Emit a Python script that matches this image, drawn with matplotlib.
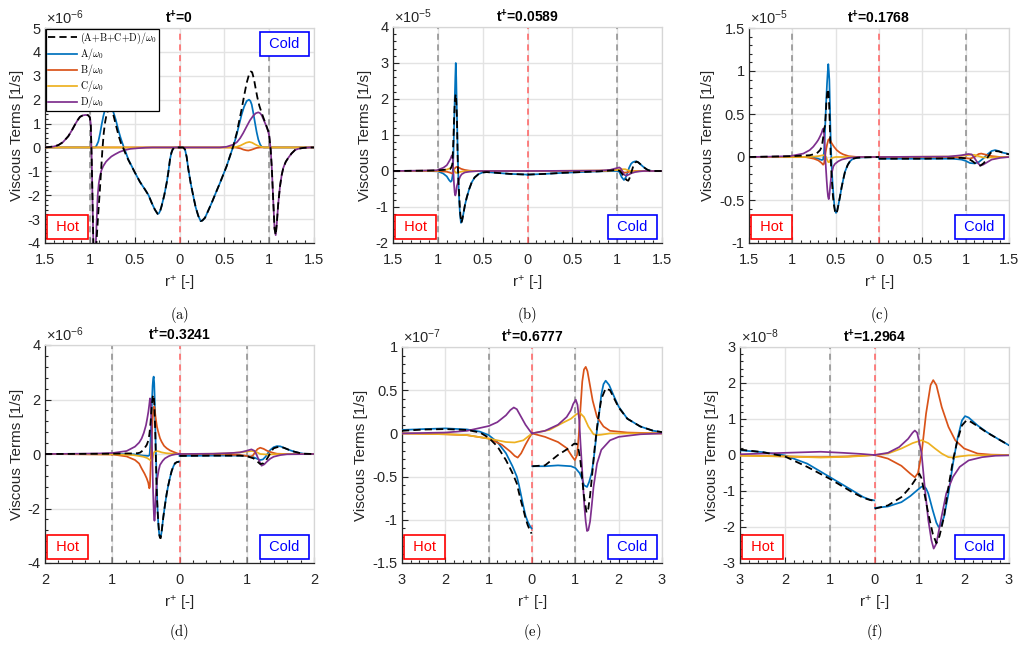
import numpy as np
import matplotlib
matplotlib.use('Agg')
import matplotlib.pyplot as plt
from matplotlib.ticker import AutoMinorLocator, FixedLocator, FuncFormatter
from matplotlib.font_manager import FontProperties

plt.rcParams['font.family'] = ['Liberation Sans', 'DejaVu Sans']
plt.rcParams['mathtext.fontset'] = 'custom'
plt.rcParams['mathtext.rm'] = 'Liberation Sans'
plt.rcParams['mathtext.it'] = 'Liberation Sans:italic'
plt.rcParams['mathtext.bf'] = 'Liberation Sans:bold'
plt.rcParams['axes.unicode_minus'] = False

# ---------------- data (signed r+: negative = hot side) ----------------
nan = float('nan')
# Panel (a)  t+=0, x1e-6
a_S_left = [(-1.5,0),(-1.4,0.04),(-1.35,0.1),(-1.3,0.22),(-1.24,0.47),(-1.2,0.72),(-1.165,0.96),(-1.135,1.15),(-1.11,1.28),(-1.08,1.34),(-1.05,1.36),(-1.02,1.35),(-1.0,1.26),(-0.99,1.0),(-0.98,-0.36),(-0.97,-2.2),(-0.96,-4.2),(-0.95,-5.2),(-0.935,-4.6),(-0.92,-3.6),(-0.905,-2.7),(-0.89,-1.9),(-0.875,-1.0),(-0.86,-0.1),(-0.845,0.6),(-0.83,1.05),(-0.815,1.35),(-0.8,1.52),(-0.785,1.6),(-0.77,1.6),(-0.755,1.52),(-0.74,1.4),(-0.72,1.1),(-0.7,0.8),(-0.68,0.5),(-0.655,0.2),(-0.625,-0.05),(-0.6,-0.28),(-0.571,-0.52),(-0.496,-1.06),(-0.44,-1.45),(-0.385,-1.76),(-0.345,-2.0),(-0.31,-2.32),(-0.275,-2.6),(-0.244,-2.78),(-0.23,-2.76),(-0.215,-2.65),(-0.2,-2.46),(-0.17,-2.0),(-0.143,-1.48),(-0.125,-1.05),(-0.106,-0.5),(-0.09,-0.22),(-0.076,-0.08),(-0.06,-0.02),(-0.05,0),(0,0)]
a_S_right = [(0,0),(0.04,0),(0.061,-0.08),(0.08,-0.4),(0.099,-0.92),(0.125,-1.5),(0.154,-2.04),(0.18,-2.5),(0.21,-2.87),(0.236,-3.08),(0.255,-3.06),(0.285,-2.94),(0.32,-2.65),(0.359,-2.32),(0.405,-1.9),(0.452,-1.48),(0.49,-1.12),(0.526,-0.78),(0.555,-0.45),(0.582,-0.15),(0.6,0.06),(0.62,0.35),(0.638,0.6),(0.665,1.1),(0.693,1.6),(0.72,2.15),(0.749,2.7),(0.775,3.05),(0.795,3.18),(0.81,3.15),(0.831,2.85),(0.85,2.45),(0.868,2.1),(0.89,1.75),(0.916,1.45),(0.94,1.2),(0.965,0.95),(0.99,0.68),(1.0,0.5),(1.017,-0.1),(1.03,-0.9),(1.045,-2.2),(1.06,-3.4),(1.073,-3.67),(1.085,-3.2),(1.1,-2.4),(1.121,-1.62),(1.14,-1.15),(1.158,-0.85),(1.185,-0.6),(1.214,-0.43),(1.25,-0.25),(1.288,-0.11),(1.33,-0.05),(1.38,-0.02),(1.45,0),(1.5,0)]
a_A_left = [(-1.5,0),(-0.94,0),(-0.925,0.08),(-0.905,0.25),(-0.885,0.6),(-0.868,0.96),(-0.85,1.3),(-0.83,1.6),(-0.81,1.76),(-0.795,1.8),(-0.78,1.79),(-0.765,1.72),(-0.75,1.6),(-0.735,1.45),(-0.71,1.15),(-0.68,0.7),(-0.655,0.38),(-0.626,0.06),(-0.6,-0.2),(-0.571,-0.5),(-0.496,-1.06),(-0.44,-1.45),(-0.385,-1.76),(-0.345,-2.0),(-0.31,-2.32),(-0.275,-2.6),(-0.244,-2.78),(-0.23,-2.76),(-0.215,-2.65),(-0.2,-2.46),(-0.17,-2.0),(-0.143,-1.48),(-0.125,-1.05),(-0.106,-0.5),(-0.09,-0.22),(-0.076,-0.08),(-0.06,-0.02),(-0.05,0),(0,0)]
a_A_right = [(0,0),(0.04,0),(0.061,-0.08),(0.08,-0.4),(0.099,-0.92),(0.125,-1.5),(0.154,-2.04),(0.18,-2.5),(0.21,-2.87),(0.236,-3.08),(0.255,-3.06),(0.285,-2.94),(0.32,-2.65),(0.359,-2.32),(0.405,-1.9),(0.452,-1.48),(0.49,-1.12),(0.526,-0.78),(0.555,-0.45),(0.582,-0.15),(0.6,0.06),(0.62,0.3),(0.638,0.54),(0.665,0.95),(0.693,1.38),(0.72,1.7),(0.749,1.94),(0.775,2.0),(0.79,1.95),(0.805,1.8),(0.823,1.45),(0.842,1.03),(0.86,0.65),(0.879,0.33),(0.9,0.12),(0.916,0.03),(0.94,0),(1.5,0)]
a_B_left = [(-1.5,0),(0,0)]
a_B_right = [(0,0),(0.62,0),(0.68,-0.04),(0.712,-0.09),(0.745,-0.12),(0.768,-0.13),(0.8,-0.1),(0.823,-0.07),(0.86,-0.02),(0.9,0),(1.5,0)]
a_C_left = [(-1.5,0),(0,0)]
a_C_right = [(0,0),(0.6,0),(0.64,0.03),(0.68,0.08),(0.712,0.14),(0.745,0.2),(0.779,0.23),(0.81,0.2),(0.842,0.13),(0.88,0.06),(0.916,0.02),(0.95,0),(1.5,0)]
a_D_left = [(-1.5,0),(-1.4,0.04),(-1.35,0.1),(-1.3,0.22),(-1.24,0.47),(-1.2,0.72),(-1.165,0.96),(-1.135,1.15),(-1.11,1.28),(-1.08,1.34),(-1.05,1.36),(-1.02,1.35),(-1.0,1.26),(-0.99,1.0),(-0.98,-0.36),(-0.97,-2.2),(-0.96,-4.2),(-0.95,-5.2),(-0.94,-4.8),(-0.925,-3.2),(-0.913,-2.04),(-0.9,-1.5),(-0.887,-1.2),(-0.87,-0.95),(-0.85,-0.78),(-0.82,-0.6),(-0.794,-0.5),(-0.76,-0.38),(-0.72,-0.29),(-0.67,-0.19),(-0.61,-0.11),(-0.55,-0.06),(-0.46,-0.03),(-0.38,-0.01),(-0.3,0),(0,0)]
a_D_right = [(0,0),(0.45,0),(0.526,0.03),(0.6,0.12),(0.64,0.22),(0.675,0.38),(0.71,0.6),(0.749,0.88),(0.785,1.13),(0.823,1.33),(0.85,1.43),(0.879,1.47),(0.9,1.43),(0.916,1.35),(0.94,1.15),(0.965,0.92),(0.985,0.72),(1.0,0.5),(1.017,-0.1),(1.03,-0.9),(1.045,-2.2),(1.06,-3.4),(1.073,-3.67),(1.085,-3.2),(1.1,-2.4),(1.121,-1.62),(1.14,-1.15),(1.158,-0.85),(1.185,-0.6),(1.214,-0.43),(1.25,-0.25),(1.288,-0.11),(1.33,-0.05),(1.38,-0.02),(1.45,0),(1.5,0)]

# Panel (b)  t+=0.0589, x1e-5
b_S_left = [(-1.5,0),(-1.1,0.01),(-1.0,0.02),(-0.94,0.03),(-0.9,0.04),(-0.864,0.05),(-0.85,0.1),(-0.838,0.19),(-0.827,0.83),(-0.818,1.5),(-0.81,1.94),(-0.803,2.1),(-0.798,2.13),(-0.792,1.8),(-0.787,1.48),(-0.779,0.37),(-0.772,-0.2),(-0.764,-0.56),(-0.756,-0.95),(-0.749,-1.2),(-0.738,-1.44),(-0.728,-1.36),(-0.716,-1.2),(-0.698,-0.95),(-0.678,-0.74),(-0.65,-0.5),(-0.623,-0.32),(-0.59,-0.18),(-0.548,-0.09),(-0.5,-0.04),(-0.456,-0.03),(-0.4,-0.04),(-0.3,-0.06),(-0.2,-0.08),(-0.1,-0.09),(0,-0.1)]
b_S_right = [(0,-0.1),(0.2,-0.08),(0.4,-0.05),(0.6,-0.03),(0.8,-0.01),(0.95,0.02),(0.994,0.04),(1.03,0.0),(1.05,-0.06),(1.068,-0.13),(1.09,-0.2),(1.105,-0.25),(1.124,-0.27),(1.138,-0.2),(1.15,-0.1),(1.165,0.02),(1.18,0.14),(1.2,0.23),(1.217,0.26),(1.235,0.24),(1.254,0.2),(1.28,0.14),(1.31,0.08),(1.34,0.03),(1.366,0.01),(1.4,0),(1.5,0)]
b_A_left = [(-1.5,0),(-1.1,0),(-1.0,-0.01),(-0.94,-0.07),(-0.9,-0.15),(-0.875,-0.25),(-0.857,-0.3),(-0.845,-0.27),(-0.835,-0.12),(-0.827,0.37),(-0.82,1.1),(-0.812,1.94),(-0.805,2.6),(-0.8,3.0),(-0.795,2.6),(-0.79,1.94),(-0.784,1.2),(-0.779,0.56),(-0.773,0.0),(-0.768,-0.46),(-0.76,-0.9),(-0.753,-1.2),(-0.742,-1.44),(-0.73,-1.38),(-0.716,-1.2),(-0.698,-0.95),(-0.678,-0.74),(-0.65,-0.5),(-0.623,-0.32),(-0.59,-0.18),(-0.548,-0.09),(-0.5,-0.04),(-0.456,-0.03),(-0.4,-0.04),(-0.3,-0.06),(-0.2,-0.08),(-0.1,-0.09),(0,-0.1)]
b_A_right = [(0,-0.1),(0.2,-0.08),(0.4,-0.05),(0.6,-0.03),(0.8,-0.01),(0.994,0.0),(1.024,-0.02),(1.05,-0.17),(1.076,-0.25),(1.09,-0.2),(1.105,-0.13),(1.12,0.0),(1.135,0.1),(1.155,0.2),(1.172,0.24),(1.19,0.26),(1.21,0.27),(1.23,0.25),(1.254,0.2),(1.28,0.14),(1.31,0.08),(1.34,0.03),(1.366,0.01),(1.4,0),(1.5,0)]
b_B_left = [(-1.5,0),(-1.0,0),(-0.9,-0.02),(-0.86,-0.05),(-0.838,-0.07),(-0.828,-0.02),(-0.815,0.06),(-0.8,0.1),(-0.785,0.12),(-0.77,0.1),(-0.74,0.06),(-0.7,0.03),(-0.65,0.01),(-0.6,0),(0,0)]
b_B_right = [(0,0),(0.9,0.01),(0.98,0.03),(1.01,0.04),(1.05,0.0),(1.08,-0.05),(1.11,-0.04),(1.15,-0.01),(1.2,0),(1.5,0)]
b_C_left = [(-1.5,0),(-1.0,0.01),(-0.9,0.04),(-0.86,0.08),(-0.846,0.11),(-0.83,0.1),(-0.815,0.0),(-0.8,-0.05),(-0.785,-0.05),(-0.76,-0.03),(-0.72,-0.01),(-0.65,0),(0,0)]
b_C_right = [(0,0),(0.9,0.01),(1.0,0.03),(1.05,0.05),(1.09,0.05),(1.12,0.02),(1.16,-0.01),(1.2,-0.01),(1.3,0),(1.5,0)]
b_D_left = [(-1.5,0),(-1.2,0.01),(-1.013,0.02),(-0.939,0.09),(-0.9,0.16),(-0.883,0.23),(-0.86,0.33),(-0.846,0.42),(-0.838,0.44),(-0.832,0.35),(-0.827,0.0),(-0.82,-0.35),(-0.812,-0.6),(-0.805,-0.68),(-0.798,-0.62),(-0.788,-0.42),(-0.771,-0.28),(-0.75,-0.15),(-0.734,-0.09),(-0.7,-0.04),(-0.65,-0.02),(-0.55,0),(0,0)]
b_D_right = [(0,0),(0.8,0.01),(0.92,0.03),(0.994,0.08),(1.024,0.1),(1.04,0.07),(1.05,0.03),(1.065,-0.05),(1.076,-0.1),(1.1,-0.13),(1.13,-0.1),(1.16,-0.06),(1.2,-0.03),(1.25,-0.01),(1.3,0),(1.5,0)]

# Panel (c)  t+=0.1768, x1e-5
c_S_left = [(-1.5,0),(-1.0,0.01),(-0.8,0.02),(-0.72,0.04),(-0.68,0.08),(-0.66,0.12),(-0.645,0.22),(-0.632,0.33),(-0.624,0.36),(-0.617,0.45),(-0.608,0.62),(-0.598,0.74),(-0.59,0.79),(-0.582,0.75),(-0.575,0.6),(-0.568,0.38),(-0.56,0.1),(-0.552,-0.13),(-0.542,-0.3),(-0.531,-0.46),(-0.52,-0.56),(-0.508,-0.63),(-0.494,-0.66),(-0.48,-0.62),(-0.469,-0.56),(-0.45,-0.46),(-0.431,-0.35),(-0.41,-0.25),(-0.392,-0.17),(-0.36,-0.09),(-0.335,-0.05),(-0.3,-0.02),(-0.258,-0.01),(-0.2,-0.005),(0,0)]
c_S_right = [(0,-0.02),(0.5,-0.02),(0.85,-0.015),(0.95,-0.01),(1.03,-0.02),(1.08,-0.05),(1.13,-0.09),(1.17,-0.1),(1.21,-0.07),(1.25,-0.01),(1.29,0.05),(1.33,0.07),(1.38,0.065),(1.43,0.05),(1.5,0.03)]
c_A_left = [(-1.5,0),(-1.0,0),(-0.8,0),(-0.7,-0.02),(-0.662,-0.035),(-0.645,-0.03),(-0.635,0.05),(-0.627,0.2),(-0.612,0.59),(-0.6,0.85),(-0.592,0.98),(-0.585,1.08),(-0.578,0.98),(-0.573,0.9),(-0.568,0.68),(-0.562,0.39),(-0.555,0.12),(-0.546,-0.11),(-0.537,-0.28),(-0.527,-0.42),(-0.517,-0.54),(-0.508,-0.62),(-0.496,-0.65),(-0.483,-0.62),(-0.469,-0.56),(-0.45,-0.46),(-0.431,-0.35),(-0.41,-0.25),(-0.392,-0.17),(-0.36,-0.09),(-0.335,-0.05),(-0.3,-0.02),(-0.258,-0.01),(-0.2,-0.005),(0,0)]
c_A_right = [(0,-0.02),(0.5,-0.02),(0.85,-0.02),(0.95,-0.03),(1.0,-0.045),(1.05,-0.07),(1.1,-0.075),(1.15,-0.06),(1.2,-0.02),(1.25,0.03),(1.3,0.07),(1.34,0.08),(1.38,0.07),(1.43,0.05),(1.5,0.035)]
c_B_left = [(-1.5,0),(-0.85,0),(-0.75,-0.02),(-0.7,-0.04),(-0.662,-0.07),(-0.645,-0.09),(-0.635,-0.08),(-0.625,-0.02),(-0.615,0.06),(-0.6,0.14),(-0.585,0.2),(-0.573,0.21),(-0.56,0.19),(-0.546,0.16),(-0.52,0.12),(-0.488,0.08),(-0.45,0.05),(-0.412,0.03),(-0.35,0.01),(-0.25,0),(0,0)]
c_B_right = [(0,0),(0.85,0),(0.98,-0.01),(1.05,-0.02),(1.1,0.0),(1.15,0.035),(1.18,0.04),(1.22,0.03),(1.3,0.01),(1.4,0),(1.5,0)]
c_C_left = [(-1.5,0),(-0.8,0),(-0.7,0.01),(-0.65,0.02),(-0.625,0.02),(-0.61,0.0),(-0.6,-0.03),(-0.585,-0.06),(-0.575,-0.06),(-0.56,-0.03),(-0.54,-0.01),(-0.5,0),(0,0)]
c_C_right = [(0,0),(0.85,0.005),(0.95,0.015),(1.05,0.025),(1.1,0.025),(1.15,0.01),(1.2,-0.005),(1.3,-0.005),(1.5,0)]
c_D_left = [(-1.5,0),(-1.2,0.005),(-1.027,0.01),(-0.873,0.04),(-0.8,0.08),(-0.758,0.12),(-0.72,0.17),(-0.7,0.2),(-0.68,0.24),(-0.662,0.28),(-0.65,0.32),(-0.642,0.33),(-0.635,0.28),(-0.627,0.15),(-0.62,0.0),(-0.612,-0.14),(-0.604,-0.27),(-0.596,-0.38),(-0.588,-0.46),(-0.58,-0.49),(-0.572,-0.44),(-0.565,-0.36),(-0.555,-0.26),(-0.546,-0.19),(-0.527,-0.11),(-0.508,-0.08),(-0.47,-0.05),(-0.43,-0.03),(-0.35,-0.01),(-0.25,0),(0,0)]
c_D_right = [(0,0),(0.8,0.005),(0.95,0.02),(1.03,0.035),(1.07,0.03),(1.1,-0.01),(1.14,-0.07),(1.17,-0.1),(1.2,-0.09),(1.25,-0.06),(1.3,-0.03),(1.4,-0.01),(1.5,0)]

# Panel (d)  t+=0.3241, x1e-6
d_S_left = [(-2,0),(-1,0.01),(-0.8,0.02),(-0.7,0.02),(-0.62,0.03),(-0.587,0.05),(-0.56,0.1),(-0.538,0.15),(-0.51,0.25),(-0.488,0.33),(-0.465,0.48),(-0.449,0.7),(-0.44,0.9),(-0.429,1.19),(-0.419,1.55),(-0.409,1.86),(-0.398,2.1),(-0.389,2.17),(-0.381,2.05),(-0.374,1.8),(-0.366,1.25),(-0.359,0.7),(-0.352,-0.1),(-0.344,-0.89),(-0.335,-1.6),(-0.325,-2.12),(-0.312,-2.6),(-0.3,-2.97),(-0.29,-3.08),(-0.28,-3.09),(-0.27,-2.95),(-0.26,-2.73),(-0.24,-2.3),(-0.216,-1.87),(-0.19,-1.45),(-0.166,-1.14),(-0.14,-0.85),(-0.116,-0.62),(-0.09,-0.45),(-0.067,-0.34),(-0.04,-0.3),(-0.005,-0.28)]
d_S_right = [(0,-0.07),(0.5,-0.06),(0.9,-0.06),(1.0,-0.08),(1.1,-0.16),(1.16,-0.28),(1.2,-0.37),(1.25,-0.34),(1.29,-0.22),(1.32,-0.1),(1.36,0.08),(1.4,0.21),(1.48,0.27),(1.55,0.23),(1.62,0.16),(1.7,0.09),(1.78,0.04),(1.85,0.01),(2,0)]
d_A_left = [(-2,0),(-1,0),(-0.686,-0.01),(-0.6,-0.04),(-0.538,-0.06),(-0.463,-0.07),(-0.445,-0.04),(-0.435,0.3),(-0.425,0.8),(-0.419,1.19),(-0.41,1.9),(-0.4,2.5),(-0.392,2.75),(-0.384,2.84),(-0.376,2.6),(-0.369,2.04),(-0.362,1.2),(-0.354,0.33),(-0.346,-0.4),(-0.339,-1.14),(-0.33,-1.8),(-0.32,-2.36),(-0.31,-2.75),(-0.3,-2.97),(-0.29,-3.05),(-0.282,-3.05),(-0.27,-2.92),(-0.26,-2.73),(-0.24,-2.3),(-0.216,-1.87),(-0.19,-1.45),(-0.166,-1.14),(-0.14,-0.85),(-0.116,-0.62),(-0.09,-0.45),(-0.067,-0.34),(-0.04,-0.3),(-0.005,-0.28)]
d_A_right = [(0,-0.07),(0.5,-0.06),(0.9,-0.06),(1.0,-0.07),(1.1,-0.12),(1.16,-0.18),(1.2,-0.22),(1.24,-0.2),(1.28,-0.1),(1.32,0.05),(1.35,0.15),(1.4,0.25),(1.45,0.29),(1.5,0.28),(1.55,0.23),(1.62,0.16),(1.7,0.09),(1.78,0.04),(1.85,0.01),(2,0)]
d_B_left = [(-2,0),(-1.5,-0.01),(-0.984,-0.02),(-0.786,-0.09),(-0.662,-0.22),(-0.6,-0.35),(-0.563,-0.53),(-0.52,-0.72),(-0.488,-0.89),(-0.465,-1.05),(-0.449,-1.26),(-0.44,-1.2),(-0.434,-0.75),(-0.424,-0.1),(-0.414,0.5),(-0.402,1.2),(-0.389,1.6),(-0.378,1.74),(-0.37,1.7),(-0.36,1.45),(-0.35,1.25),(-0.335,1.0),(-0.315,0.8),(-0.29,0.58),(-0.266,0.45),(-0.23,0.3),(-0.19,0.21),(-0.14,0.13),(-0.092,0.08),(-0.04,0.03),(0,0)]
d_B_right = [(0,0),(0.6,-0.01),(0.9,-0.04),(1.0,-0.07),(1.05,-0.1),(1.09,-0.06),(1.12,0.05),(1.16,0.18),(1.2,0.23),(1.25,0.19),(1.3,0.12),(1.38,0.05),(1.45,0.01),(1.6,0),(2,0)]
d_C_left = [(-2,0),(-1,-0.01),(-0.686,-0.04),(-0.538,-0.1),(-0.48,-0.15),(-0.439,-0.22),(-0.42,-0.25),(-0.404,-0.22),(-0.395,-0.1),(-0.385,0.02),(-0.37,0.09),(-0.339,0.11),(-0.3,0.09),(-0.266,0.06),(-0.2,0.03),(-0.1,0.01),(0,0)]
d_C_right = [(0,0),(0.5,0.01),(0.7,0.02),(0.9,0.06),(1.0,0.09),(1.08,0.11),(1.14,0.08),(1.2,0.0),(1.3,-0.02),(1.4,-0.01),(1.6,0),(2,0)]
d_D_left = [(-2,0),(-1.5,0.01),(-1.182,0.02),(-0.984,0.04),(-0.786,0.11),(-0.662,0.27),(-0.6,0.42),(-0.563,0.57),(-0.53,0.78),(-0.498,1.06),(-0.48,1.3),(-0.463,1.55),(-0.45,1.8),(-0.439,2.04),(-0.431,2.0),(-0.424,1.7),(-0.417,1.1),(-0.409,0.33),(-0.401,-0.5),(-0.394,-1.26),(-0.386,-1.9),(-0.379,-2.3),(-0.372,-2.45),(-0.366,-2.3),(-0.36,-1.9),(-0.354,-1.55),(-0.342,-1.15),(-0.33,-0.89),(-0.31,-0.6),(-0.29,-0.4),(-0.25,-0.25),(-0.216,-0.16),(-0.16,-0.08),(-0.116,-0.04),(-0.06,-0.01),(0,0)]
d_D_right = [(0,0),(0.5,0.01),(0.8,0.04),(0.9,0.06),(1.0,0.12),(1.07,0.17),(1.12,0.11),(1.15,-0.05),(1.18,-0.22),(1.22,-0.43),(1.26,-0.38),(1.3,-0.28),(1.35,-0.17),(1.4,-0.1),(1.5,-0.04),(1.6,-0.01),(2,0)]

# Panel (e)  t+=0.6777, x1e-7
e_S_left = [(-3,0.03),(-2.5,0.045),(-2,0.05),(-1.5,0.04),(-1.2,0.01),(-1.0,-0.05),(-0.8,-0.15),(-0.6,-0.31),(-0.45,-0.46),(-0.35,-0.58),(-0.3,-0.69),(-0.25,-0.79),(-0.2,-0.88),(-0.15,-0.98),(-0.1,-1.06),(-0.05,-1.12),(-0.01,-1.16)]
e_S_right = [(0.01,-0.38),(0.3,-0.37),(0.6,-0.25),(0.85,-0.17),(0.97,-0.12),(1.03,-0.12),(1.08,-0.2),(1.12,-0.33),(1.16,-0.53),(1.2,-0.73),(1.26,-0.92),(1.3,-0.87),(1.34,-0.72),(1.38,-0.52),(1.45,-0.15),(1.52,0.15),(1.6,0.4),(1.7,0.52),(1.8,0.5),(1.9,0.4),(2.0,0.3),(2.2,0.17),(2.5,0.08),(2.8,0.03),(3,0.015)]
e_A_left = [(-3,0.04),(-2.5,0.05),(-2,0.058),(-1.5,0.046),(-1.2,0.02),(-1.0,-0.02),(-0.8,-0.1),(-0.6,-0.23),(-0.45,-0.38),(-0.35,-0.5),(-0.3,-0.6),(-0.25,-0.72),(-0.2,-0.84),(-0.15,-0.95),(-0.1,-1.02),(-0.05,-1.07),(-0.01,-1.1)]
e_A_right = [(0.01,-0.38),(0.3,-0.38),(0.6,-0.37),(0.9,-0.38),(1.0,-0.4),(1.1,-0.46),(1.16,-0.53),(1.2,-0.6),(1.27,-0.62),(1.32,-0.56),(1.38,-0.45),(1.42,-0.31),(1.46,-0.14),(1.5,0.04),(1.55,0.23),(1.6,0.45),(1.65,0.57),(1.7,0.61),(1.78,0.56),(1.9,0.42),(2.0,0.31),(2.2,0.17),(2.5,0.08),(2.8,0.03),(3,0.015)]
e_B_left = [(-3,0),(-2,-0.01),(-1.5,-0.02),(-1.0,-0.06),(-0.7,-0.13),(-0.5,-0.21),(-0.4,-0.26),(-0.33,-0.28),(-0.25,-0.23),(-0.15,-0.13),(-0.05,-0.04),(0,0)]
e_B_right = [(0,0),(0.3,-0.04),(0.6,-0.1),(0.8,-0.17),(0.93,-0.27),(0.99,-0.31),(1.04,-0.25),(1.08,-0.02),(1.12,0.3),(1.16,0.6),(1.2,0.74),(1.24,0.77),(1.28,0.72),(1.34,0.55),(1.4,0.38),(1.5,0.19),(1.65,0.08),(1.8,0.03),(2.2,0.01),(3,0)]
e_C_left = [(-3,0),(-2,-0.01),(-1.5,-0.02),(-1.0,-0.06),(-0.6,-0.1),(-0.4,-0.105),(-0.2,-0.08),(-0.05,-0.02),(0,0)]
e_C_right = [(0,0),(0.4,0.04),(0.7,0.12),(0.9,0.17),(1.02,0.22),(1.1,0.24),(1.2,0.19),(1.3,0.08),(1.42,-0.01),(1.5,-0.02),(1.6,-0.015),(1.8,0),(3,0)]
e_D_left = [(-3,0),(-2,0.01),(-1.5,0.03),(-1.0,0.085),(-0.8,0.13),(-0.6,0.21),(-0.5,0.27),(-0.42,0.3),(-0.35,0.28),(-0.25,0.19),(-0.15,0.1),(-0.05,0.03),(0,0)]
e_D_right = [(0,0),(0.3,0.03),(0.6,0.1),(0.8,0.19),(0.9,0.27),(0.95,0.34),(1.01,0.39),(1.05,0.33),(1.09,0.15),(1.12,-0.12),(1.15,-0.36),(1.18,-0.62),(1.21,-0.85),(1.24,-1.02),(1.27,-1.13),(1.3,-1.12),(1.34,-1.02),(1.38,-0.83),(1.42,-0.62),(1.5,-0.35),(1.6,-0.19),(1.8,-0.08),(2.0,-0.04),(2.5,-0.01),(3,0)]

# Panel (f)  t+=1.2964, x1e-8
f_S_left = [(-3,0.15),(-2.5,0.08),(-2,-0.04),(-1.5,-0.33),(-1.0,-0.66),(-0.5,-1.03),(-0.25,-1.19),(-0.1,-1.25),(-0.01,-1.27)]
f_S_right = [(0.01,-1.49),(0.3,-1.4),(0.6,-1.17),(0.8,-0.89),(0.95,-0.61),(1.0,-0.52),(1.05,-0.65),(1.1,-0.98),(1.2,-1.63),(1.3,-2.19),(1.38,-2.45),(1.45,-2.25),(1.55,-1.72),(1.65,-0.89),(1.75,-0.15),(1.85,0.41),(1.95,0.82),(2.05,0.96),(2.15,0.92),(2.3,0.8),(2.5,0.63),(2.75,0.45),(3.0,0.27)]
f_A_left = [(-3,0.13),(-2.5,0.08),(-2,-0.01),(-1.5,-0.24),(-1.0,-0.61),(-0.5,-0.98),(-0.25,-1.17),(-0.1,-1.24),(-0.01,-1.26)]
f_A_right = [(0.01,-1.47),(0.3,-1.43),(0.6,-1.31),(0.8,-1.14),(0.95,-0.98),(1.05,-0.88),(1.1,-0.87),(1.15,-0.93),(1.2,-1.07),(1.3,-1.54),(1.38,-1.88),(1.43,-2.0),(1.48,-1.95),(1.55,-1.72),(1.65,-1.07),(1.75,-0.24),(1.85,0.45),(1.95,0.96),(2.02,1.08),(2.1,1.04),(2.3,0.82),(2.5,0.64),(2.75,0.45),(3.0,0.27)]
f_B_left = [(-3,-0.01),(-2,-0.04),(-1.2,-0.06),(-0.6,-0.04),(-0.2,-0.01),(0,0)]
f_B_right = [(0,0),(0.3,-0.1),(0.6,-0.3),(0.8,-0.52),(0.9,-0.62),(0.97,-0.5),(1.05,0.04),(1.15,1.15),(1.25,1.94),(1.31,2.08),(1.38,1.94),(1.5,1.33),(1.65,0.78),(1.8,0.41),(2.0,0.18),(2.3,0.04),(2.6,0.01),(3,0)]
f_C_left = [(-3,-0.02),(-2,-0.04),(-1.2,-0.07),(-0.6,-0.05),(-0.2,-0.02),(0,0)]
f_C_right = [(0,0),(0.3,0.04),(0.6,0.18),(0.85,0.33),(1.05,0.41),(1.2,0.33),(1.35,0.18),(1.5,0.04),(1.65,-0.06),(1.75,-0.07),(1.9,-0.04),(2.1,-0.01),(3,0)]
f_D_left = [(-3,0.02),(-2,0.06),(-1.2,0.09),(-0.7,0.06),(-0.3,0.03),(0,0)]
f_D_right = [(0,0),(0.3,0.06),(0.55,0.22),(0.75,0.45),(0.85,0.62),(0.9,0.68),(0.95,0.62),(1.0,0.35),(1.05,0.04),(1.12,-0.89),(1.2,-1.81),(1.27,-2.37),(1.32,-2.6),(1.38,-2.46),(1.48,-1.81),(1.6,-1.07),(1.75,-0.61),(1.9,-0.33),(2.1,-0.15),(2.4,-0.06),(2.7,-0.02),(3,-0.01)]

titles = ['0', '0.0589', '0.1768', '0.3241', '0.6777', '1.2964']
exponents = [-6, -5, -5, -6, -7, -8]
captions = ['(a)', '(b)', '(c)', '(d)', '(e)', '(f)']
x_limits = [1.5, 1.5, 1.5, 2, 3, 3]
x_ticks = [[-1.5, -1, -0.5, 0, 0.5, 1, 1.5]] * 3 + [[-2, -1, 0, 1, 2]] + [[-3, -2, -1, 0, 1, 2, 3]] * 2
y_ticks = [[-4, -3, -2, -1, 0, 1, 2, 3, 4, 5],
           [-2, -1, 0, 1, 2, 3, 4],
           [-1, -0.5, 0, 0.5, 1, 1.5],
           [-4, -2, 0, 2, 4],
           [-1.5, -1, -0.5, 0, 0.5, 1],
           [-3, -2, -1, 0, 1, 2, 3]]
boundaries = [-1, 1]
series_names = ['A', 'B', 'C', 'D']
series_colors = ['#0072BD', '#D95319', '#EDB120', '#7E2F8E']
legend_labels = [r'$\mathrm{(A{+}B{+}C{+}D)}/\omega_0$', r'$\mathrm{A}/\omega_0$',
                 r'$\mathrm{B}/\omega_0$', r'$\mathrm{C}/\omega_0$', r'$\mathrm{D}/\omega_0$']

data = globals()

# ---------------- layout (pixels: left, top, right, bottom) ----------------
W, H = 1026, 662
rects = [(45, 28, 314, 243), (393, 27, 662, 243), (749, 28, 1009, 243),
         (45, 345, 314, 563), (402, 347, 662, 563), (740, 347, 1009, 563)]
caption_y = [315, 315, 315, 632, 632, 632]
PX = 72 / 100  # points per pixel

fig = plt.figure(figsize=(W / 100, H / 100), dpi=100)


def joined(prefix, name):
    left = np.array(data[f'{prefix}_{name}_left'], dtype=float)
    right = np.array(data[f'{prefix}_{name}_right'], dtype=float)
    pts = np.vstack([left, [[nan, nan]], right])
    return pts[:, 0], pts[:, 1]


def label_box(ax, text, color, corner):
    fs = 10.5
    pad = 0.35
    pad_pt = pad * fs
    sx, sy = corner
    ox = sx * (pad_pt + (2 if sx > 0 else 5) * PX)
    oy = sy * (pad_pt + 4 * PX)
    ax.annotate(text, xy=(0 if sx > 0 else 1, 0 if sy > 0 else 1), xycoords='axes fraction',
                xytext=(ox, oy), textcoords='offset points',
                ha='left' if sx > 0 else 'right', va='bottom' if sy > 0 else 'top',
                fontsize=fs, color=color, zorder=6,
                bbox=dict(boxstyle=f'square,pad={pad}', fc='white', ec=color, lw=1.2))


for i, prefix in enumerate('abcdef'):
    l, t, r, b = rects[i]
    ax = fig.add_axes([l / W, 1 - b / H, (r - l) / W, (b - t) / H])
    ax.set_axisbelow(True)
    handles = []
    for name, col in zip(series_names, series_colors):
        x, y = joined(prefix, name)
        h, = ax.plot(x, y, color=col, lw=1.25, zorder=3)
        handles.append(h)
    x, y = joined(prefix, 'S')
    hs, = ax.plot(x, y, color='black', lw=1.3, ls=(0, (4, 2.3)), zorder=4)
    handles = [hs] + handles

    for bx in boundaries:
        ax.axvline(bx, color='#8c8c8c', lw=1.1, ls=(0, (4, 3)), zorder=2)
    ax.axvline(0, color='#ff6060', lw=1.1, ls=(0, (4, 3)), zorder=2)

    xl = x_limits[i]
    ax.set_xlim(-xl, xl)
    yt = y_ticks[i]
    ax.set_ylim(yt[0], yt[-1])
    ax.xaxis.set_major_locator(FixedLocator(x_ticks[i]))
    ax.yaxis.set_major_locator(FixedLocator(yt))
    ax.xaxis.set_major_formatter(FuncFormatter(lambda v, p: f'{abs(v):g}'))
    ax.yaxis.set_major_formatter(FuncFormatter(lambda v, p: f'{v:g}'))
    ax.xaxis.set_minor_locator(AutoMinorLocator(5))
    ax.yaxis.set_minor_locator(AutoMinorLocator(5))
    ax.grid(True, which='major', color='#e3e3e3', lw=1.0)
    ax.tick_params(which='both', direction='in', top=False, right=False, width=0.8, colors='#262626')
    ax.tick_params(which='major', length=4, labelsize=10.5)
    ax.tick_params(which='minor', length=2)
    ax.tick_params(axis='x', pad=7)
    ax.tick_params(axis='y', pad=3)
    for s in ['left', 'bottom']:
        ax.spines[s].set_color('#262626')
        ax.spines[s].set_linewidth(0.9)
    for s in ['top', 'right']:
        ax.spines[s].set_color('#d6d6d6')
        ax.spines[s].set_linewidth(0.9)

    ax.set_xlabel(r'r$^{+}$ [-]', fontsize=11, color='#262626', labelpad=5)
    ax.set_ylabel('Viscous Terms [1/s]', fontsize=11, color='#262626', labelpad=3)
    ax.set_title(r'$\mathbf{t^{+}}$=' + titles[i], fontsize=10, fontweight='bold', pad=3.5)
    ax.text(0.005, 1.005, r'$\times$10$^{%d}$' % exponents[i], transform=ax.transAxes,
            ha='left', va='bottom', fontsize=10.5, color='#262626')

    label_box(ax, ' Hot ', '#ff0000', (1, 1))
    if prefix == 'a':
        label_box(ax, ' Cold ', '#0000ff', (-1, -1))
        leg = ax.legend(handles, legend_labels, loc='upper left',
                        prop=FontProperties(family='serif', size=7.2, math_fontfamily='cm'),
                        frameon=True, fancybox=False, edgecolor='black', framealpha=1,
                        borderaxespad=0.1, handlelength=2.9, handleheight=0.5,
                        labelspacing=0.0, borderpad=0.15, handletextpad=0.4)
        leg.get_frame().set_linewidth(0.9)
        leg.set_zorder(7)
    else:
        label_box(ax, ' Cold ', '#0000ff', (-1, 1))

    fig.text((l + r) / 2 / W, 1 - caption_y[i] / H, r'$\mathrm{%s}$' % captions[i],
             ha='center', va='center',
             fontproperties=FontProperties(math_fontfamily='cm', size=10.5))

fig.savefig('out.png', dpi=100)
